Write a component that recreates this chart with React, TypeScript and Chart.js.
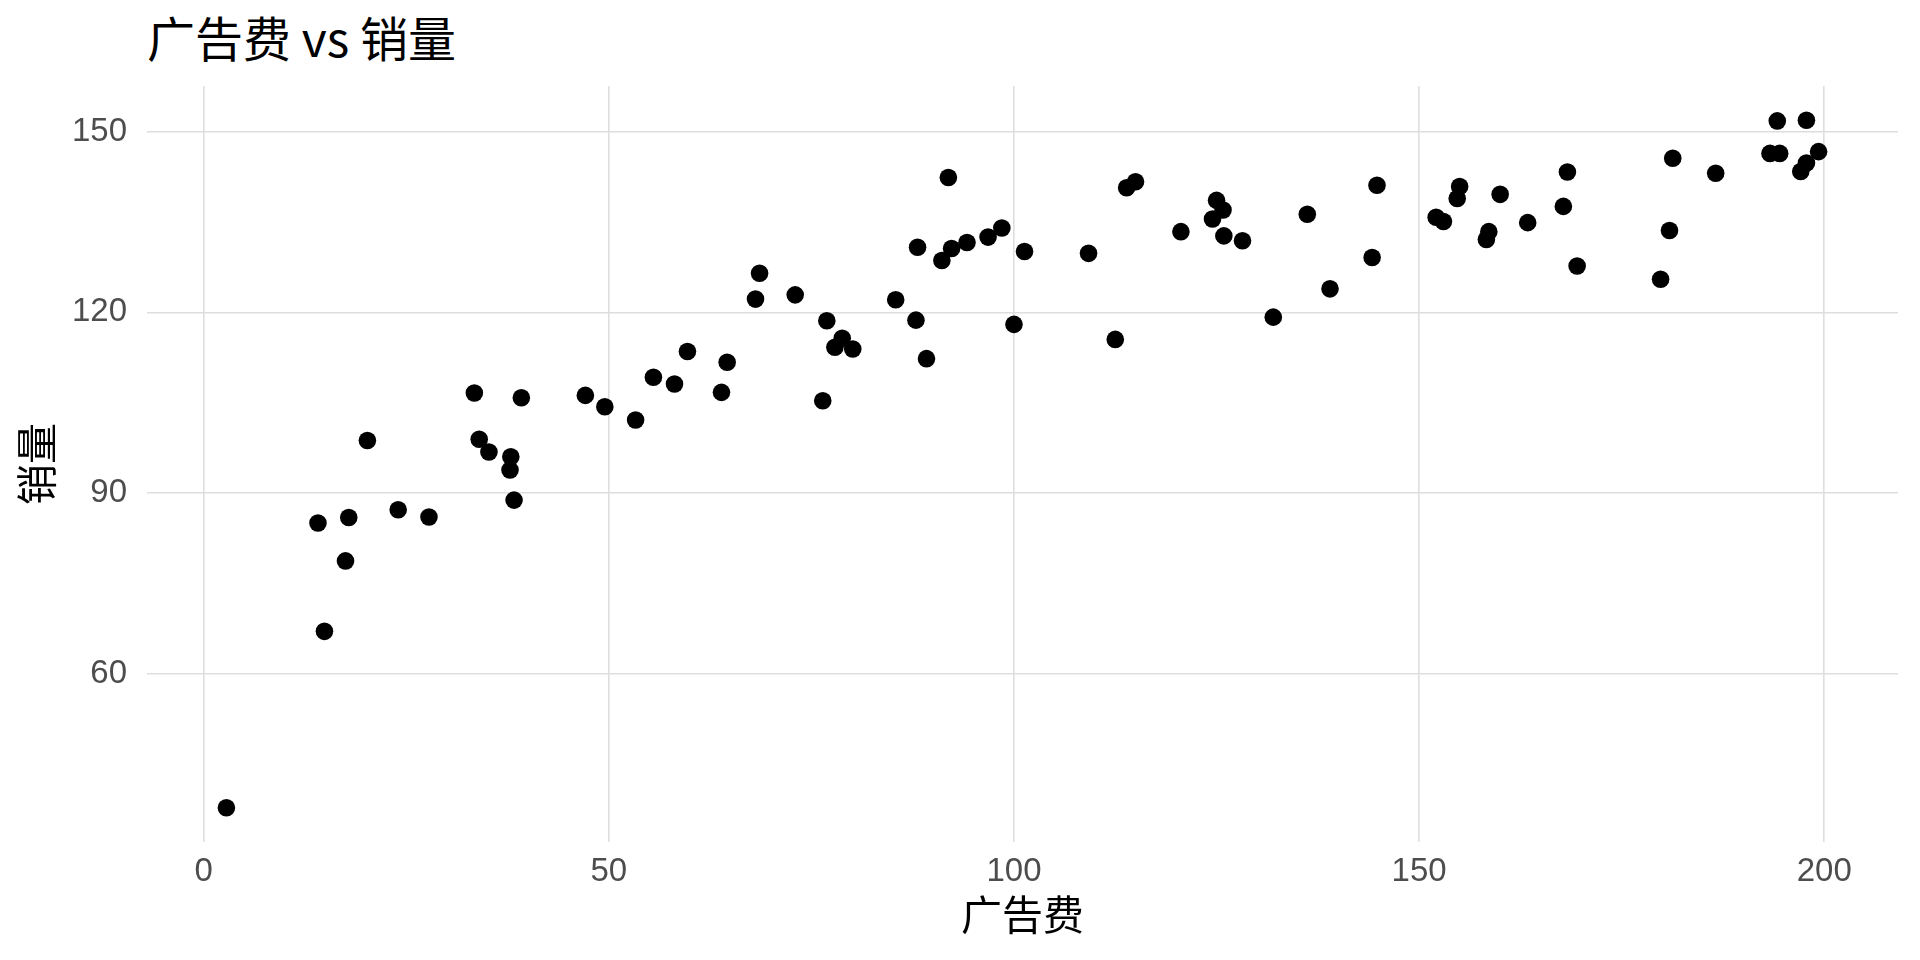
import React, { useEffect, useRef } from "react";
import { Chart, registerables } from "chart.js";

Chart.register(...registerables);

const chartTitle = "广告费 vs 销量";
const xTitle = "广告费";
const yTitle = "销量";

const adSpend = [
  2.8, 14.1, 14.9, 17.5, 17.9, 20.2, 24.0, 27.8, 33.4, 34.0,
  35.2, 37.9, 37.8, 38.3, 39.2, 47.1, 49.5, 53.3, 55.5, 58.1,
  59.7, 63.9, 64.6, 68.1, 68.6, 73.0, 76.4, 76.9, 77.9, 78.8,
  80.1, 85.4, 87.9, 88.1, 89.2, 91.1, 91.9, 92.3, 94.2, 96.8,
  98.5, 100.0, 101.3, 109.2, 112.5, 113.9, 115.0, 120.6, 124.5, 125.0,
  125.8, 125.9, 128.2, 132.0, 136.2, 139.0, 144.2, 144.8, 152.1, 153.0,
  154.7, 155.0, 158.3, 158.6, 160.0, 163.4, 167.8, 168.3, 169.5, 179.8,
  180.9, 181.3, 186.6, 193.3, 194.2, 194.5, 197.1, 197.8, 197.8, 199.3,
];

const sales = [
  37.7, 85.0, 67.0, 78.7, 85.9, 98.7, 87.2, 86.0, 106.6, 98.9,
  96.8, 96.0, 93.8, 88.8, 105.8, 106.2, 104.3, 102.1, 109.2, 108.1,
  113.5, 106.7, 111.7, 122.2, 126.5, 122.9, 105.3, 118.6, 114.2, 115.7,
  113.9, 122.1, 118.7, 130.8, 112.3, 128.6, 142.4, 130.6, 131.6, 132.5,
  134.0, 118.0, 130.1, 129.8, 115.5, 140.7, 141.7, 133.4, 135.5, 138.6,
  137.0, 132.7, 131.9, 119.2, 136.3, 123.9, 129.1, 141.1, 135.8, 135.1,
  138.9, 140.9, 132.1, 133.4, 139.6, 134.9, 137.6, 143.3, 127.7, 125.5,
  133.6, 145.6, 143.1, 146.4, 151.8, 146.4, 143.4, 144.8, 151.9, 146.7,
];

const xTicks = [0, 50, 100, 150, 200];
const yTicks = [60, 90, 120, 150];
const xLimits = [-7.0, 209.1];
const yLimits = [32.0, 157.6];

export default function App() {
  const canvasRef = useRef<HTMLCanvasElement | null>(null);

  useEffect(() => {
    if (!canvasRef.current) return;
    const points = adSpend.map((x, i) => ({ x, y: sales[i] }));
    const gridColor = "#dedede";
    const tickFont = { family: "'Liberation Sans', Arial, sans-serif", size: 33 };
    const titleFont = { family: "'Noto Sans CJK SC', 'Noto Sans', sans-serif", size: 41 };

    const chart = new Chart(canvasRef.current, {
      type: "scatter",
      data: {
        datasets: [
          {
            data: points,
            backgroundColor: "#000000",
            borderWidth: 0,
            pointRadius: 8.8,
            pointHoverRadius: 8.8,
          },
        ],
      },
      options: {
        animation: false,
        responsive: false,
        maintainAspectRatio: false,
        layout: { padding: { top: 86, right: 22, left: 0, bottom: 0 } },
        plugins: {
          legend: { display: false },
          tooltip: { enabled: false },
          title: { display: false },
        },
        scales: {
          x: {
            type: "linear",
            min: xLimits[0],
            max: xLimits[1],
            afterBuildTicks: (scale: any) => {
              scale.ticks = xTicks.map((v) => ({ value: v }));
            },
            afterFit: (scale: any) => {
              scale.height = 118;
            },
            grid: { color: gridColor, lineWidth: 1.6, drawTicks: false },
            border: { display: false },
            ticks: {
              font: tickFont,
              color: "#4d4d4d",
              padding: 10,
              maxRotation: 0,
              autoSkip: false,
              callback: (v: any) => String(v),
            },
            title: {
              display: true,
              text: xTitle,
              font: titleFont,
              color: "#000000",
              padding: { top: 0, bottom: 21 },
            },
          },
          y: {
            type: "linear",
            min: yLimits[0],
            max: yLimits[1],
            afterBuildTicks: (scale: any) => {
              scale.ticks = yTicks.map((v) => ({ value: v }));
            },
            afterFit: (scale: any) => {
              scale.width = 147;
            },
            grid: { color: gridColor, lineWidth: 1.6, drawTicks: false },
            border: { display: false },
            ticks: {
              font: tickFont,
              color: "#4d4d4d",
              padding: 20,
              autoSkip: false,
              callback: (v: any) => String(v),
            },
            title: {
              display: true,
              text: yTitle,
              font: titleFont,
              color: "#000000",
              padding: { top: 12, bottom: 0 },
            },
          },
        },
      },
    });
    return () => chart.destroy();
  }, []);

  return (
    <div
      style={{
        position: "fixed",
        left: 0,
        top: 0,
        width: 1920,
        height: 960,
        background: "#ffffff",
        overflow: "hidden",
      }}
    >
      <div
        style={{
          position: "absolute",
          left: 147,
          top: 12,
          fontFamily: "'Noto Sans CJK SC', 'Noto Sans', sans-serif",
          fontSize: 48,
          lineHeight: 1,
          color: "#000000",
          whiteSpace: "nowrap",
        }}
      >
        {chartTitle}
      </div>
      <canvas
        ref={canvasRef}
        width={1920}
        height={960}
        style={{ position: "absolute", left: 0, top: 0, width: 1920, height: 960 }}
      />
    </div>
  );
}
